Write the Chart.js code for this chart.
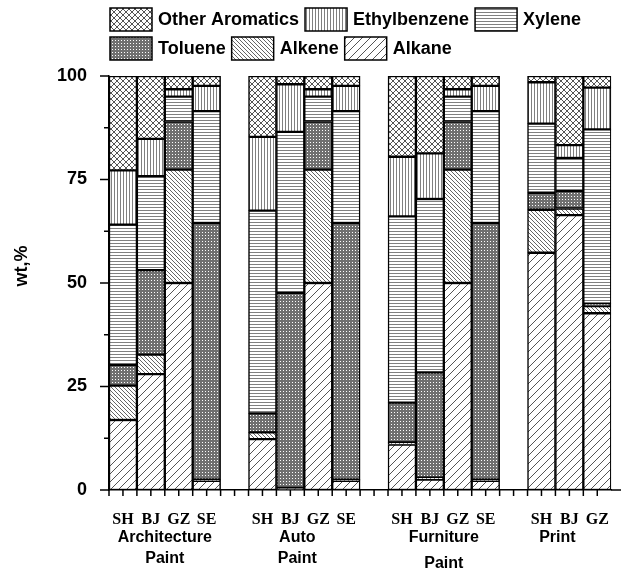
<!DOCTYPE html>
<html>
<head>
<meta charset="utf-8">
<script src="https://cdn.jsdelivr.net/npm/chart.js@4.4.1/dist/chart.umd.min.js"></script>
<style>
  html, body { margin: 0; padding: 0; background: #fff; }
</style>
</head>
<body>
<canvas id="chart" width="621" height="570"></canvas>
<script>
// Catégories (les cases vides séparent les groupes)
const sites = ["SH", "BJ", "GZ", "SE", "", "SH", "BJ", "GZ", "SE", "", "SH", "BJ", "GZ", "SE", "", "SH", "BJ", "GZ"];
const groupNames = [["Architecture", "Paint"], ["Auto", "Paint"], ["Furniture", "Paint"], ["Print"]];
const groupRange = [[0, 3], [5, 8], [10, 13], [15, 17]];
const yTicks = [0, 25, 50, 75, 100];

// Composition en wt,%
const seriesNames = ["Alkane", "Alkene", "Toluene", "Xylene", "Ethylbenzene", "Other Aromatics"];
const alkane = [16.9, 28.0, 50.0, 2.2, null, 12.3, 0.5, 50.0, 2.2, null, 11.0, 2.5, 50.0, 2.2, null, 57.3, 66.4, 42.7];
const alkene = [8.3, 4.7, 27.4, 0.3, null, 1.6, null, 27.4, 0.3, null, 0.5, 0.5, 27.4, 0.3, null, 10.4, 1.6, 1.7];
const toluene = [5.0, 20.4, 11.6, 62.0, null, 4.6, 47.1, 11.6, 62.0, null, 9.6, 25.4, 11.6, 62.0, null, 4.1, 4.2, 0.6];
const xylene = [33.9, 22.7, 6.0, 27.0, null, 49.0, 38.9, 6.0, 27.0, null, 45.0, 41.9, 6.0, 27.0, null, 16.7, 8.0, 42.1];
const ethylbenzene = [13.1, 9.0, 1.8, 6.1, null, 17.8, 11.5, 1.8, 6.1, null, 14.4, 11.0, 1.8, 6.1, null, 10.0, 3.1, 10.1];
const otherAromatics = [22.8, 15.2, 3.2, 2.4, null, 14.7, 2.0, 3.2, 2.4, null, 19.5, 18.7, 3.2, 2.4, null, 1.5, 16.7, 2.8];

const canvas = document.getElementById("chart");
const ctx = canvas.getContext("2d");

// Motifs de remplissage noir et blanc
function makePattern(w, h, draw) {
  const c = document.createElement("canvas");
  c.width = w;
  c.height = h;
  const g = c.getContext("2d");
  g.fillStyle = "#fff";
  g.fillRect(0, 0, w, h);
  draw(g, w, h);
  return ctx.createPattern(c, "repeat");
}

function diag(g, s, up) {
  g.beginPath();
  for (let k = -1; k <= 1; k++) {
    if (up) {
      g.moveTo(k * s, s);
      g.lineTo(k * s + s, 0);
    } else {
      g.moveTo(k * s, 0);
      g.lineTo(k * s + s, s);
    }
  }
  g.stroke();
}

const patterns = [
  makePattern(8, 8, (g, s) => { g.strokeStyle = "#555"; g.lineWidth = 1; diag(g, s, true); }),
  makePattern(4, 4, (g, s) => { g.strokeStyle = "#555"; g.lineWidth = 0.9; diag(g, s, false); }),
  makePattern(3, 3, (g) => { g.fillStyle = "#707070"; g.fillRect(0, 0, 3, 3); g.fillStyle = "#fff"; g.fillRect(1, 1, 1, 1); }),
  makePattern(1, 3, (g) => { g.fillStyle = "#808080"; g.fillRect(0, 0, 1, 1); }),
  makePattern(3, 1, (g) => { g.fillStyle = "#808080"; g.fillRect(0, 0, 1, 1); }),
  makePattern(6, 6, (g, s) => { g.strokeStyle = "#555"; g.lineWidth = 1; diag(g, s, true); diag(g, s, false); }),
];

const seriesData = [alkane, alkene, toluene, xylene, ethylbenzene, otherAromatics];

const datasets = seriesNames.map((name, i) => ({
  label: name,
  data: seriesData[i],
  backgroundColor: patterns[i],
  borderColor: "#000",
  borderWidth: 1.5,
  borderSkipped: false,
  categoryPercentage: 1,
  barPercentage: 1,
}));

const sansBold = (size) => `bold ${size}px "Liberation Sans", Arial, sans-serif`;

// décalages des titres de groupe (placés à la main dans l'original)
const labelShiftX = [0, -7, 0, -12];
const labelShiftY = [0, 0, 5, 0];

// Légende, graduations, titres de groupe
const decorations = {
  id: "decorations",
  afterDraw(chart) {
    const { ctx, chartArea: a, scales: { x, y } } = chart;
    ctx.save();
    ctx.strokeStyle = "#000";
    ctx.lineWidth = 1.5;

    // graduations y (majeures + mineures)
    for (let i = 0; i < yTicks.length; i++) {
      const py = y.getPixelForValue(yTicks[i]);
      ctx.beginPath(); ctx.moveTo(a.left - 9, py); ctx.lineTo(a.left, py); ctx.stroke();
      if (i < yTicks.length - 1) {
        const pm = y.getPixelForValue((yTicks[i] + yTicks[i + 1]) / 2);
        ctx.beginPath(); ctx.moveTo(a.left - 5, pm); ctx.lineTo(a.left, pm); ctx.stroke();
      }
    }

    // graduations x
    const half = (x.getPixelForValue(1) - x.getPixelForValue(0)) / 2;
    for (let i = 0; i < sites.length; i++) {
      const px = x.getPixelForValue(i);
      [px - half, px].forEach((t) => {
        ctx.beginPath(); ctx.moveTo(t, a.bottom); ctx.lineTo(t, a.bottom + 6); ctx.stroke();
      });
    }
    ctx.beginPath(); ctx.moveTo(a.right, a.bottom); ctx.lineTo(chart.width, a.bottom); ctx.stroke();

    // noms des groupes
    ctx.fillStyle = "#000";
    ctx.font = sansBold(16);
    ctx.textAlign = "center";
    ctx.textBaseline = "middle";
    groupNames.forEach((lines, gi) => {
      const cx = (x.getPixelForValue(groupRange[gi][0]) + x.getPixelForValue(groupRange[gi][1])) / 2 + labelShiftX[gi];
      lines.forEach((t, li) => ctx.fillText(t, cx, 538 + li * (21 + labelShiftY[gi])));
    });

    // titre de l'axe y
    ctx.save();
    ctx.translate(22, 266);
    ctx.rotate(-Math.PI / 2);
    ctx.font = sansBold(18);
    ctx.fillText("wt,%", 0, 0);
    ctx.restore();

    // légende sur deux lignes
    const order = seriesNames.map((n, i) => i).reverse();
    ctx.font = sansBold(18);
    ctx.textAlign = "left";
    [order.slice(0, 3), order.slice(3)].forEach((row, r) => {
      let lx = 110;
      const top = 8 + r * 29;
      row.forEach((si) => {
        ctx.fillStyle = patterns[si];
        ctx.fillRect(lx, top, 42, 23);
        ctx.strokeRect(lx, top, 42, 23);
        ctx.fillStyle = "#000";
        lx += 48;
        ctx.fillText(seriesNames[si], lx, top + 12);
        lx += ctx.measureText(seriesNames[si]).width + 6;
      });
    });

    ctx.restore();
  },
};

new Chart(ctx, {
  type: "bar",
  data: { labels: sites, datasets: datasets },
  options: {
    responsive: false,
    animation: false,
    layout: { padding: { top: 76, right: 6, left: 0, bottom: 0 } },
    plugins: {
      legend: { display: false },
      tooltip: { enabled: false },
    },
    scales: {
      x: {
        stacked: true,
        grid: { display: false },
        border: { display: true, color: "#000", width: 1.5 },
        ticks: {
          autoSkip: false,
          maxRotation: 0,
          color: "#000",
          padding: 12,
          font: { family: '"Liberation Serif", "Times New Roman", serif', weight: "bold", size: 16 },
        },
        afterFit: (s) => { s.height = 80; },
      },
      y: {
        stacked: true,
        min: 0,
        max: 100,
        grid: { display: false },
        border: { display: true, color: "#000", width: 1.5 },
        afterBuildTicks: (s) => { s.ticks = yTicks.map((v) => ({ value: v })); },
        ticks: {
          color: "#000",
          padding: 14,
          font: { family: '"Liberation Sans", Arial, sans-serif', weight: "bold", size: 18 },
        },
        afterFit: (s) => { s.width = 109; },
      },
    },
  },
  plugins: [decorations],
});
</script>
</body>
</html>
